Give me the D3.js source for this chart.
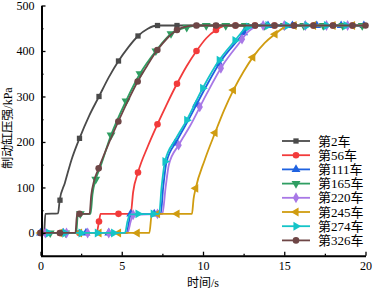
<!DOCTYPE html>
<html>
<head>
<meta charset="utf-8">
<script src="https://cdn.jsdelivr.net/npm/d3@7"></script>
<style>
  body { margin: 0; background: #fff; }
  text { font-family: "Liberation Serif", "Noto Sans CJK SC", serif; }
</style>
</head>
<body>
<div id="container"></div>
<script>
/* CONSTANTS AND GLOBALS */
const width = 373;
const height = 291;

/* DATA - [time s, pressure kPa] */
const seriesNames = ["第2车", "第56车", "第111车", "第165车", "第220车", "第245车", "第274车", "第326车"];
const seriesColors = ["#4a4a4a", "#f23b3b", "#1f62e0", "#2f9e62", "#a878e6", "#d09c10", "#14c4c8", "#6e4646"];

const car2 = [[0,0],[0.22,0],[0.3,42],[1.08,43],[1.18,72],[1.5,110],[1.9,160],[2.4,208],[3.0,258],[3.6,300],[4.2,342],[4.8,378],[5.4,408],[6.0,433],[6.6,449],[7.2,456],[20,456]];
const car56 = [[0,0],[3.45,0],[3.6,25],[3.7,42],[5.55,42],[5.7,90],[6.0,133],[6.6,190],[7.2,239],[7.8,285],[8.4,328],[9.0,367],[9.6,400],[10.2,428],[10.8,446],[11.4,456],[20,456]];
const car111 = [[0,0],[5.3,0],[5.45,25],[5.55,42],[7.4,42],[7.55,100],[7.75,155],[8.4,203],[9.1,248],[10.1,316],[11.1,378],[12.1,422],[12.6,443],[13.1,456],[20,456]];
const car165 = [[0,0],[2.2,0],[2.3,42],[3.08,42],[3.2,85],[3.4,118],[3.65,142],[4.34,215],[5.26,290],[6.12,350],[7.1,400],[8.03,438],[9.0,452],[9.6,456],[20,456]];
const car220 = [[0,0],[5.35,0],[5.55,25],[5.7,40],[7.5,42],[7.7,100],[7.9,150],[8.5,193],[9.2,235],[10.2,304],[11.2,368],[12.2,416],[12.8,443],[13.5,456],[20,456]];
const car245 = [[0,0],[6.7,0],[6.85,42],[9.32,42],[9.42,75],[9.55,98],[10.1,160],[10.74,220],[11.3,270],[11.87,314],[12.5,355],[13.06,386],[13.8,418],[14.43,437],[15.0,452],[15.4,456],[20,456]];
const car274 = [[0,0],[5.2,0],[5.35,25],[5.5,41],[7.3,42],[7.45,100],[7.66,157],[8.3,205],[9.0,248],[9.98,318],[11.0,380],[11.97,423],[12.5,446],[12.9,456],[20,456]];
const car326 = [[0,0],[2.15,0],[2.25,42],[3.02,42],[3.12,82],[3.3,115],[3.58,142],[4.2,197],[4.79,245],[5.4,292],[5.98,333],[6.6,370],[7.19,402],[7.8,428],[8.4,446],[9.0,454],[9.5,456],[20,456]];

// marker positions
const car2Marks = [[0,0],[1.2,72],[2.4,208],[3.6,300],[4.8,378],[6.0,433],[7.2,456],[8.4,456],[9.6,456],[10.8,456],[12.0,456],[13.2,456],[14.4,456],[15.6,456],[16.8,456],[18.0,456],[19.2,456]];
const car56Marks = [[0,0],[1.2,0],[2.4,0],[3.6,25],[4.8,42],[6.0,133],[7.2,239],[8.4,328],[9.6,400],[10.8,446],[12.0,456],[13.2,456],[14.4,456],[15.6,456],[16.8,456],[18.0,456],[19.2,456]];
const car111Marks = [[0,0],[1.4,0],[2.8,0],[4.2,0],[5.55,42],[7.0,42],[8.3,198],[9.6,283],[11.0,372],[12.5,440],[14.0,456],[15.5,456],[17.0,456],[18.5,456],[19.9,456]];
const car165Marks = [[0.6,0],[1.55,0],[2.45,42],[3.4,118],[4.34,215],[5.26,290],[6.12,350],[7.1,400],[8.03,438],[9.0,452],[10.2,456],[11.4,456],[12.6,456],[13.8,456],[15.0,456],[16.2,456],[17.4,456],[18.6,456],[19.8,456]];
const car220Marks = [[0.3,0],[1.6,0],[2.9,0],[4.2,0],[5.7,40],[7.2,42],[8.5,193],[9.8,277],[11.1,362],[12.4,426],[13.7,456],[15.0,456],[16.3,456],[17.6,456],[18.9,456]];
const car245Marks = [[0,0],[1.2,0],[2.4,0],[3.6,0],[4.8,0],[5.95,0],[7.2,42],[8.4,42],[9.55,98],[10.74,220],[11.87,314],[13.06,386],[14.43,437],[15.6,456],[16.8,456],[18.0,456],[19.2,456]];
const car274Marks = [[0.5,0],[1.5,0],[2.5,0],[3.5,0],[4.5,0],[6.0,42],[6.94,42],[7.66,157],[9.0,248],[9.98,318],[11.0,380],[11.97,423],[12.8,453],[14.0,456],[15.2,456],[16.4,456],[17.6,456],[18.8,456]];
const car326Marks = [[0,0],[1.2,0],[2.4,42],[3.58,142],[4.79,245],[5.98,333],[7.19,402],[8.4,446],[9.6,456],[10.8,456],[12.0,456],[13.2,456],[14.4,456],[15.6,456],[16.8,456],[18.0,456],[19.2,456],[20,456]];

const xTicks = [0, 5, 10, 15, 20];
const xMinor = [2.5, 7.5, 12.5, 17.5];
const yTicks = [0, 100, 200, 300, 400, 500];
const yMinor = [-50, 50, 150, 250, 350, 450];

const allLines = [car2, car56, car111, car165, car220, car245, car274, car326];
const allMarks = [car2Marks, car56Marks, car111Marks, car165Marks, car220Marks, car245Marks, car274Marks, car326Marks];

// symbol type and rotation for each series
const symbols = [
    { type: d3.symbolSquare, rot: 0, size: 28 },
    { type: d3.symbolCircle, rot: 0, size: 34 },
    { type: d3.symbolTriangle, rot: 0, size: 34 },
    { type: d3.symbolTriangle, rot: 180, size: 34 },
    { type: d3.symbolDiamond, rot: 0, size: 34 },
    { type: d3.symbolTriangle, rot: -90, size: 34 },
    { type: d3.symbolTriangle, rot: 90, size: 34 },
    { type: d3.symbolCircle, rot: 0, size: 34 }
];

/* HTML ELEMENTS */
const svg = d3.select("#container")
    .append("svg")
    .attr("width", width)
    .attr("height", height)

/* SCALES */
const xScale = d3.scaleLinear()
    .domain([0, 20])
    .range([40.5, 365.5])

const yScale = d3.scaleLinear()
    .domain([-50, 500])
    .range([255.7, 5.5])

/* LINES */
const line = d3.line()
    .x(d => xScale(d[0]))
    .y(d => yScale(d[1]))
    .curve(d3.curveMonotoneX)

allLines.forEach((data, i) => {
    const g = svg.append("g")
    g.append("path")
        .datum(data)
        .attr("d", line)
        .attr("fill", "none")
        .attr("stroke", seriesColors[i])
        .attr("stroke-width", 1.8)
        .attr("stroke-linejoin", "round")

    g.selectAll("path.mark")
        .data(allMarks[i])
        .join("path")
        .attr("class", "mark")
        .attr("d", d3.symbol().type(symbols[i].type).size(symbols[i].size))
        .attr("transform", d => `translate(${xScale(d[0])},${yScale(d[1])}) rotate(${symbols[i].rot})`)
        .attr("fill", seriesColors[i])
})

/* AXES */
const xAxis = svg.append("g")
    .attr("transform", `translate(0,${yScale(-50)})`)
    .call(d3.axisBottom(xScale).tickValues(xTicks).tickSize(-4).tickSizeOuter(0).tickPadding(6))
svg.append("g")
    .attr("transform", `translate(0,${yScale(-50)})`)
    .call(d3.axisBottom(xScale).tickValues(xMinor).tickSize(-2).tickSizeOuter(0).tickFormat(""))
    .select(".domain").remove()

const yAxis = svg.append("g")
    .attr("transform", `translate(${xScale(0) + 1},0)`)
    .call(d3.axisLeft(yScale).tickValues(yTicks).tickSize(-4).tickSizeOuter(0).tickPadding(7))
svg.append("g")
    .attr("transform", `translate(${xScale(0) + 1},0)`)
    .call(d3.axisLeft(yScale).tickValues(yMinor).tickSize(-2).tickSizeOuter(0).tickFormat(""))
    .select(".domain").remove()

svg.selectAll(".domain").attr("stroke-width", 2).attr("stroke", "#000")
svg.selectAll(".tick line").attr("stroke-width", 1.3).attr("stroke", "#000")
svg.selectAll(".tick text")
    .style("font-size", "12px")
    .style("font-family", "'Liberation Serif', serif")
    .attr("fill", "#000")

// axis titles
svg.append("text")
    .attr("x", xScale(10))
    .attr("y", 287)
    .attr("text-anchor", "middle")
    .style("font-size", "12px")
    .text("时间/s")

svg.append("text")
    .attr("transform", `translate(12,${128}) rotate(-90)`)
    .attr("text-anchor", "middle")
    .style("font-size", "12px")
    .text("制动缸压强/kPa")

/* LEGEND */
const legend = svg.append("g")
    .attr("transform", "translate(282,141)")

seriesNames.forEach((name, i) => {
    const row = legend.append("g").attr("transform", `translate(0,${i * 14.2})`)
    row.append("line")
        .attr("x1", 0).attr("x2", 28)
        .attr("stroke", seriesColors[i])
        .attr("stroke-width", 1.8)
    row.append("path")
        .attr("d", d3.symbol().type(symbols[i].type).size(symbols[i].size))
        .attr("transform", `translate(14,0) rotate(${symbols[i].rot})`)
        .attr("fill", seriesColors[i])
    row.append("text")
        .attr("x", 36)
        .attr("dy", "0.35em")
        .style("font-size", "13px")
        .text(name)
})
</script>
</body>
</html>
